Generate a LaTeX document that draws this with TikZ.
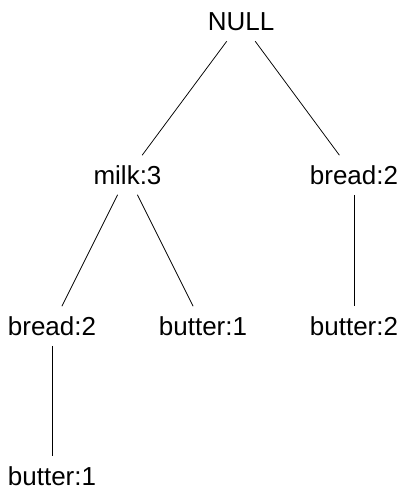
\documentclass[tikz,border=0pt]{standalone}
\usepackage{fontspec}
\setmainfont{Liberation Sans}
\usepackage{tikz}
\usetikzlibrary{positioning}

\tikzset{item/.style={inner sep=10pt, font=\fontsize{26}{30}\selectfont}}

\begin{document}
\begin{tikzpicture}[x=1pt,y=-1pt]
\useasboundingbox (0,0) rectangle (401,490);
\node[item] (null) at (241,22) {NULL};
\node[item] (milk) at (127.5,175) {milk:3};
\node[item] (breadA) at (354,175) {bread:2};
\node[item] (breadB) at (52,326) {bread:2};
\node[item] (butterA) at (203,326) {butter:1};
\node[item] (butterB) at (354,326) {butter:2};
\node[item] (butterC) at (52,476) {butter:1};
\draw[line width=0.75pt] (null) -- (milk);
\draw[line width=0.75pt] (null) -- (breadA);
\draw[line width=0.75pt] (milk) -- (breadB);
\draw[line width=0.75pt] (milk) -- (butterA);
\draw[line width=0.75pt] (breadA) -- (butterB);
\draw[line width=0.75pt] (breadB) -- (butterC);
\end{tikzpicture}
\end{document}
